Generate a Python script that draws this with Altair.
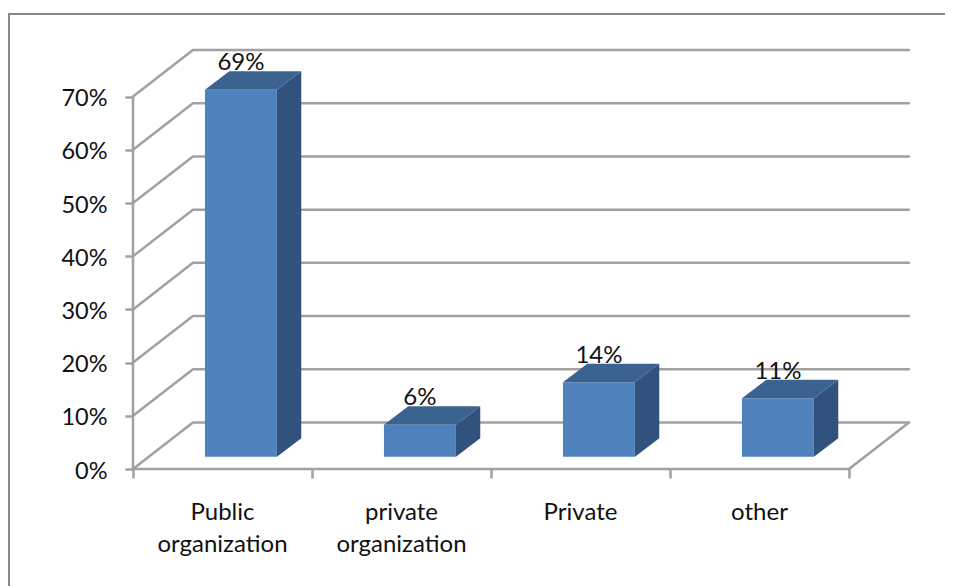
import altair as alt
import pandas as pd

# ---- data ----
categories = ["Public\norganization", "private\norganization", "Private", "other"]
shares = [69, 6, 14, 11]
share_ticks = [0, 10, 20, 30, 40, 50, 60, 70]

# ---- 3D projection constants (category units / percent units) ----
WALL_DX, WALL_DY = 0.335, 8.75
BAR_LEFT, BAR_W = 0.402, 0.402
BAR_DX, BAR_DY = 0.136, 3.48
BAR_BASE = 2.3
N = len(categories)

FRONT, TOP, SIDE = "#4f81bd", "#3c6290", "#31527c"
GRID, FRAME = "#a1a1a1", "#868686"
FONT = "Lato"
TEXT = "#111111"
SIZE = 24

xs = alt.Scale(domain=[-125 / 179, 812 / 179], nice=False, zero=False)
ys = alt.Scale(domain=[-117 / 5.32, 461 / 5.32], nice=False, zero=False)
x_ax = alt.Axis(
    values=list(range(N + 1)), labels=False, title=None, grid=False, domain=False,
    orient="bottom", offset=-117, tickSize=9, tickWidth=2.5, tickColor=GRID)
y_ax = alt.Axis(
    values=share_ticks, labelExpr="datum.value + '%'", title=None, grid=False,
    domain=False, orient="left", offset=-125, tickSize=8, tickWidth=2.5,
    tickColor=GRID, labelPadding=18, labelFont=FONT, labelFontSize=23.5,
    labelColor=TEXT, labelOffset=2)
X = alt.X("x:Q", scale=xs, axis=x_ax)
Y = alt.Y("y:Q", scale=ys, axis=y_ax)

# gridlines on the back wall and the diagonals on the side wall
grid_rows, seg = [], 0
for t in share_ticks:
    grid_rows += [
        dict(seg=seg, x=0, y=t),
        dict(seg=seg, x=WALL_DX, y=t + WALL_DY),
        dict(seg=seg, x=N + WALL_DX, y=t + WALL_DY),
    ]
    seg += 1
grid_rows += [dict(seg=seg, x=N, y=0), dict(seg=seg, x=N + WALL_DX, y=WALL_DY)]
grid = (
    alt.Chart(pd.DataFrame(grid_rows))
    .mark_line(color=GRID, strokeWidth=2.5, strokeCap="round", strokeJoin="round")
    .encode(X, Y, detail="seg:N")
)

# axis lines: the front wall edge is a thin filled band between two x values
y_line = (
    alt.Chart(pd.DataFrame({"x": [-0.007], "x2": [0.007], "y": [share_ticks[0]], "y2": [share_ticks[-1]]}))
    .mark_rect(color=GRID)
    .encode(X, alt.X2("x2:Q"), Y, alt.Y2("y2:Q"))
)
x_line = (
    alt.Chart(pd.DataFrame({"x": [0], "x2": [N], "y": [0]}))
    .mark_rule(color=GRID, strokeWidth=2.5)
    .encode(X, alt.X2("x2:Q"), Y)
)

# outer frame, running off the picture on the right and at the bottom
frame_top = (
    alt.Chart(pd.DataFrame({"a": [0]})).mark_rule(color=FRAME, strokeWidth=2)
    .encode(x=alt.value(0), x2=alt.value(937), y=alt.value(6))
)
frame_left = (
    alt.Chart(pd.DataFrame({"a": [0]})).mark_rule(color=FRAME, strokeWidth=2)
    .encode(x=alt.value(1), y=alt.value(5), y2=alt.value(578))
)

# bar faces
front_rows, side_rows, top_rows, label_rows, cat_rows = [], [], [], [], []
for i, (c, v) in enumerate(zip(categories, shares)):
    l = i + BAR_LEFT
    r = l + BAR_W
    t = BAR_BASE + v
    front_rows.append(dict(x=l, x2=r, y=BAR_BASE, y2=t))
    side_rows += [
        dict(bar=i, x=r, y=BAR_BASE, y2=t),
        dict(bar=i, x=r + BAR_DX, y=BAR_BASE + BAR_DY, y2=t + BAR_DY),
    ]
    top_rows += [
        dict(bar=i, x=l, y=t, y2=t),
        dict(bar=i, x=l + BAR_DX, y=t, y2=t + BAR_DY),
        dict(bar=i, x=r, y=t, y2=t + BAR_DY),
        dict(bar=i, x=r + BAR_DX, y=t + BAR_DY, y2=t + BAR_DY),
    ]
    label_rows.append(dict(x=l + BAR_W / 2, y=t + BAR_DY + 0.2, text=f"{v}%"))
    cat_rows.append(dict(x=i + 0.5, y=-9.6, text=c))

front = (
    alt.Chart(pd.DataFrame(front_rows)).mark_rect(color=FRONT)
    .encode(X, alt.X2("x2:Q"), Y, alt.Y2("y2:Q"))
)
side = (
    alt.Chart(pd.DataFrame(side_rows)).mark_area(color=SIDE, orient="vertical")
    .encode(X, Y, alt.Y2("y2:Q"), detail="bar:N")
)
top = (
    alt.Chart(pd.DataFrame(top_rows)).mark_area(color=TOP, orient="vertical")
    .encode(X, Y, alt.Y2("y2:Q"), detail="bar:N")
)
labels = (
    alt.Chart(pd.DataFrame(label_rows))
    .mark_text(font=FONT, fontSize=SIZE, color=TEXT, baseline="alphabetic", align="center")
    .encode(X, Y, text="text:N")
)
cats = (
    alt.Chart(pd.DataFrame(cat_rows))
    .mark_text(font=FONT, fontSize=SIZE, color=TEXT, baseline="alphabetic", align="center",
               lineBreak="\n", lineHeight=32)
    .encode(X, Y, text="text:N")
)

chart = (
    alt.layer(grid, y_line, x_line, frame_top, frame_left, side, top, front, labels, cats)
    .properties(width=937, height=578, padding=0, autosize=alt.AutoSizeParams(type="none"))
    .configure_view(stroke=None)
)
chart.save("out.html", embed_options={"renderer": "svg", "actions": False})
